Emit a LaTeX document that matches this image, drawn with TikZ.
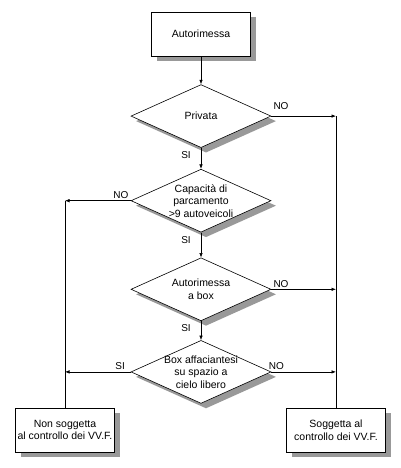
\documentclass[tikz,border=0pt]{standalone}
\usepackage{fontspec}
\setmainfont{Liberation Sans}
\usetikzlibrary{arrows.meta}
\usetikzlibrary{positioning}
\usetikzlibrary{shapes.geometric}
\usetikzlibrary{shadows}

\tikzset{
  ombra/.style={drop shadow={shadow xshift=5pt, shadow yshift=-5pt, opacity=.8}},
  blocco/.style={draw, fill=white, ombra, minimum width=99pt, minimum height=44pt, align=center, inner sep=2pt},
  decisione/.style={diamond, draw, fill=white, ombra, minimum width=140pt, minimum height=63pt, inner sep=0pt},
  freccia/.style={-{Latex[length=4.5pt,width=3.5pt]}},
  esito/.style={font=\fontsize{10}{11}\selectfont, inner sep=1pt}
}

\begin{document}
\begin{tikzpicture}[line width=.6pt, font=\fontsize{10.5}{12.5}\selectfont]
		\fill[white] (0,0) rectangle (400pt,-468pt);
		\useasboundingbox (0,0) rectangle (400pt,-468pt);
		\node[blocco](autorimessa) at (201pt,-34pt) {Autorimessa};
		\node[decisione,below=28pt of autorimessa,label={[align=center]center:Privata}](privata) {};
		\node[decisione,below=21pt of privata,label={[align=center]center:Capacità di\\parcamento\\>9 autoveicoli}](capacita) {};
		\node[decisione,below=25pt of capacita,label={[align=center]center:Autorimessa\\a box}](abox) {};
		\node[decisione,below=19pt of abox,label={[align=center]center:Box affaciantesi\\su spazio a\\cielo libero}](affaccio) {};
		\node[blocco](nonsogg) at (65pt,-430pt) {Non soggetta\\al controllo dei VV.F.};
		\node[blocco](sogg) at (336pt,-430pt) {Soggetta al\\controllo dei VV.F.};
		% colonna di destra
		\draw[freccia] (autorimessa) -- (privata);
		\draw[freccia] (privata.east) -- node[esito,above,pos=.15,yshift=5pt]{NO} (privata.east -| sogg.north);
		\draw (privata.east -| sogg.north) -- (sogg.north);
		\draw[freccia] (abox.east) -- node[esito,above,pos=.15]{NO} (abox.east -| sogg.north);
		\draw[freccia] (affaccio.east) -- node[esito,above,pos=.08,yshift=1pt]{NO} (affaccio.east -| sogg.north);
		% colonna di sinistra
		\draw[freccia] (capacita.west) -- node[esito,above,pos=.15,yshift=1pt]{NO} (capacita.west -| nonsogg.north);
		\draw (capacita.west -| nonsogg.north) -- (nonsogg.north);
		\draw[freccia] (affaccio.west) -- node[esito,above,pos=.16,yshift=1pt]{SI} (affaccio.west -| nonsogg.north);
		% rami SI
		\draw[freccia] (privata) -- node[esito,left=9pt,pos=.35]{SI} (capacita);
		\draw[freccia] (capacita) -- node[esito,left=9pt,pos=.3]{SI} (abox);
		\draw[freccia] (abox) -- node[esito,left=9pt,pos=.35]{SI} (affaccio);
	\end{tikzpicture}
\end{document}
